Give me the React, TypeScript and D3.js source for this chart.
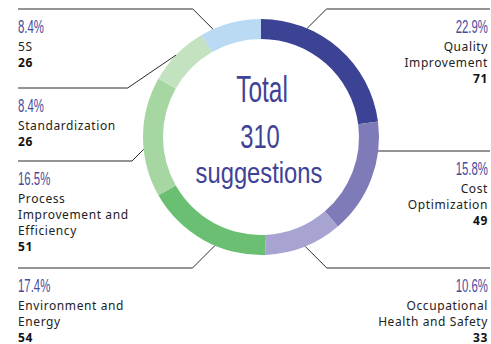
import React from 'react';
import * as d3 from 'd3';

// data
const categories = [
  'Quality Improvement',
  'Cost Optimization',
  'Occupational Health and Safety',
  'Environment and Energy',
  'Process Improvement and Efficiency',
  'Standardization',
  '5S',
];
const counts = [71, 49, 33, 54, 51, 26, 26];
const labelLines = [
  ['Quality', 'Improvement'],
  ['Cost', 'Optimization'],
  ['Occupational', 'Health and Safety'],
  ['Environment and', 'Energy'],
  ['Process', 'Improvement and', 'Efficiency'],
  ['Standardization'],
  ['5S'],
];
const colors = ['#3c4394', '#7f7bb8', '#a7a4d2', '#6abf72', '#a6d6a1', '#c3e3c0', '#badaf3'];

// layout for the leader lines (angle where the line meets the ring, y of the horizontal part)
const side = ['right', 'right', 'right', 'left', 'left', 'left', 'left'];
const anchorDeg = [23, 97, 158, 203, 264, 314, 336];
const lineY = [9, 151, 268, 268, 161, 88, 9];
const elbowSlope = [1, 1, 1, 1, 1, 1.47, 1];

const W = 491;
const H = 344;
const cx = 261;
const cy = 137;
const outerR = 118;
const innerR = 98;
const leftX = 18;
const rightX = 490;
const textRight = 488;

const pctColor = '#474c9e';
const cond = '"Liberation Sans", Arial, sans-serif';
const sans = '"Noto Sans", "Open Sans", sans-serif';

const App = () => {
  const total = d3.sum(counts);
  const pie = d3.pie<number>().sort(null).value(d => d);
  const arcs = pie(counts);
  const arc = d3.arc<d3.PieArcDatum<number>>().innerRadius(innerR).outerRadius(outerR);
  const fmt = d3.format('.1f');

  return (
    <svg width={W} height={H} style={{ position: 'absolute', left: 0, top: 0, background: '#fff' }}>
      <g transform={`translate(${cx},${cy})`}>
        {arcs.map((a, i) => (
          <path key={categories[i]} d={arc(a) || ''} fill={colors[i]} />
        ))}
      </g>

      {categories.map((c, i) => {
        const t = (anchorDeg[i] * Math.PI) / 180;
        const ax = cx + outerR * Math.sin(t);
        const ay = cy - outerR * Math.cos(t);
        const dir = side[i] === 'left' ? -1 : 1;
        const ex = ax + dir * Math.abs(lineY[i] - ay) * elbowSlope[i];
        const endX = dir < 0 ? leftX : rightX;
        const tx = dir < 0 ? leftX : textRight;
        const anchor = dir < 0 ? 'start' : 'end';
        const base = lineY[i] + 24;
        const lines = labelLines[i];
        return (
          <g key={c}>
            <polyline
              points={`${ax},${ay} ${ex},${lineY[i]} ${endX},${lineY[i]}`}
              fill="none"
              stroke="#2b2b2b"
              strokeWidth={1}
            />
            <g transform={`translate(${tx},${base}) scale(0.6,1)`}>
              <text fontFamily={cond} fontSize={19} fill={pctColor} textAnchor={anchor}>
                {fmt((counts[i] / total) * 100)}%
              </text>
            </g>
            {lines.map((l, j) => (
              <text
                key={l}
                x={tx}
                y={base + 18 + j * 16}
                fontFamily={sans}
                fontSize={12}
                letterSpacing={0.6}
                fill="#222"
                textAnchor={anchor}
              >
                {l}
              </text>
            ))}
            <text
              x={tx}
              y={base + 17.5 + lines.length * 16}
              fontFamily={sans}
              fontSize={12}
              fontWeight="bold"
              letterSpacing={0.6}
              fill="#111"
              textAnchor={anchor}
            >
              {counts[i]}
            </text>
          </g>
        );
      })}

      <g fill="#3f4396" fontFamily={cond} textAnchor="middle">
        <g transform={`translate(${cx + 1},${cy - 35}) scale(0.68,1)`}>
          <text fontSize={36}>Total</text>
        </g>
        <g transform={`translate(${cx - 1},${cy + 11}) scale(0.7,1)`}>
          <text fontSize={34}>{total}</text>
        </g>
        <g transform={`translate(${cx - 2},${cy + 46}) scale(0.82,1)`}>
          <text fontSize={29}>suggestions</text>
        </g>
      </g>
    </svg>
  );
};

export default App;
